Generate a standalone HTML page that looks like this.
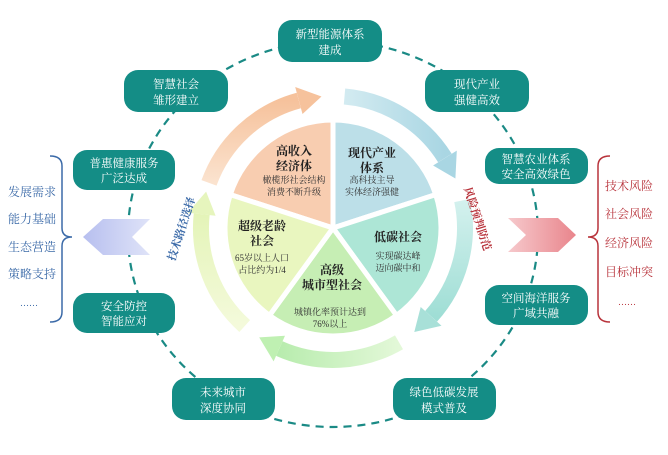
<!DOCTYPE html>
<html><head><meta charset="utf-8"><style>
body{margin:0;width:668px;height:450px;background:#fff;overflow:hidden;font-family:"Liberation Serif","Noto Serif CJK SC","Noto Sans CJK SC",serif;}
</style></head><body>
<svg width="668" height="450" viewBox="0 0 668 450" xmlns="http://www.w3.org/2000/svg">
<defs>
<linearGradient id="gp" x1="0" y1="1" x2="0" y2="0"><stop offset="0" stop-color="#fbe3cf"/><stop offset="1" stop-color="#f6c29c"/></linearGradient>
<linearGradient id="gb" x1="0" y1="0" x2="1" y2="0"><stop offset="0" stop-color="#d3ebf1"/><stop offset="1" stop-color="#a9d6e3"/></linearGradient>
<linearGradient id="gt" x1="0" y1="0" x2="0" y2="1"><stop offset="0" stop-color="#d4f1ee"/><stop offset="1" stop-color="#9fded5"/></linearGradient>
<linearGradient id="gg" x1="1" y1="0" x2="0" y2="0"><stop offset="0" stop-color="#e3f8d8"/><stop offset="1" stop-color="#b8ecae"/></linearGradient>
<linearGradient id="gy" x1="0" y1="1" x2="0" y2="0"><stop offset="0" stop-color="#f4fadb"/><stop offset="1" stop-color="#e4f4b8"/></linearGradient>
<linearGradient id="gl" x1="0" y1="0" x2="1" y2="0"><stop offset="0" stop-color="#b7bfef"/><stop offset="1" stop-color="#dfe3f8"/></linearGradient>
<linearGradient id="gr" x1="0" y1="0" x2="1" y2="0"><stop offset="0" stop-color="#f6c9cc"/><stop offset="1" stop-color="#e9858c"/></linearGradient>
</defs>
<ellipse cx="333" cy="234" rx="205" ry="193" fill="none" stroke="#1a8a85" stroke-width="2.2" stroke-dasharray="8 6"/>

<g fill="none" stroke-width="16">
<path d="M209,182.9 A132 132 0 0 1 298.8,100.5" stroke="url(#gp)"/>
<path d="M344.5,96.5 A132 132 0 0 1 444.9,158" stroke="url(#gb)"/>
<path d="M462.1,200.5 A132 132 0 0 1 431.1,316.3" stroke="url(#gt)"/>
<path d="M399,342.3 A132 132 0 0 1 279.3,348.6" stroke="url(#gg)"/>
<path d="M244.7,326.1 A132 132 0 0 1 201.7,214.2" stroke="url(#gy)"/>
</g>
<polygon points="302.5,114 295.2,87 321.5,96.5" fill="#f6c29c"/>
<polygon points="433.1,165.5 456.8,150.6 455.4,178.5" fill="#a9d6e3"/>
<polygon points="420.7,307 441.5,325.7 414.3,332" fill="#a8e0d8"/>
<polygon points="285,335.8 273.6,361.4 259.2,337.4" fill="#bff0b2"/>
<polygon points="215.6,215.7 187.8,212.7 206.1,191.6" fill="#e6f5bd"/>

<g stroke="#fff" stroke-width="5">
<path d="M333,228 L230.3,194.6 A108 108 0 0 1 333,120 Z" fill="#f8cdb0"/>
<path d="M333,228 L333,120 A108 108 0 0 1 435.7,194.6 Z" fill="#bcdfe8"/>
<path d="M333,228 L435.7,194.6 A108 108 0 0 1 396.5,315.4 Z" fill="#ade6d6"/>
<path d="M333,228 L396.5,315.4 A108 108 0 0 1 269.5,315.4 Z" fill="#c6eeb4"/>
<path d="M333,228 L269.5,315.4 A108 108 0 0 1 230.3,194.6 Z" fill="#e9f6bf"/>
</g>
<g text-anchor="middle" fill="#222">
<g font-size="12" font-weight="bold">
<text x="294" y="155">高收入</text><text x="294" y="170">经济体</text>
<text x="372" y="157">现代产业</text><text x="372" y="172">体系</text>
<text x="398" y="241">低碳社会</text>
<text x="332" y="274">高级</text><text x="332" y="289">城市型社会</text>
<text x="262" y="230">超级老龄</text><text x="262" y="245">社会</text>
</g>
<g font-size="9" fill="#333">
<text x="294" y="183">橄榄形社会结构</text><text x="294" y="195">消费不断升级</text>
<text x="372" y="183">高科技主导</text><text x="372" y="195">实体经济强健</text>
<text x="398" y="259">实现碳达峰</text><text x="398" y="271">迈向碳中和</text>
<text x="330" y="315">城镇化率预计达到</text><text x="330" y="327">76%以上</text>
<text x="262" y="261">65岁以上人口</text><text x="262" y="273">占比约为1/4</text>
</g>
</g>

<g fill="#148d86">
<rect x="278" y="20" width="104" height="42" rx="14"/>
<rect x="124" y="70" width="104" height="42" rx="14"/>
<rect x="425" y="70" width="104" height="42" rx="14"/>
<rect x="73" y="150" width="102" height="40" rx="14"/>
<rect x="485" y="148" width="103" height="36" rx="14"/>
<rect x="73" y="293" width="102" height="40" rx="14"/>
<rect x="485" y="285" width="103" height="40" rx="14"/>
<rect x="172" y="378" width="103" height="42" rx="14"/>
<rect x="393" y="378" width="103" height="42" rx="14"/>
</g>
<g text-anchor="middle" fill="#fff" font-size="11.5">
<text x="330" y="38">新型能源体系</text><text x="330" y="54">建成</text>
<text x="176" y="88">智慧社会</text><text x="176" y="104">雏形建立</text>
<text x="477" y="88">现代产业</text><text x="477" y="104">强健高效</text>
<text x="124" y="167">普惠健康服务</text><text x="124" y="182">广泛达成</text>
<text x="536" y="163">智慧农业体系</text><text x="536" y="178">安全高效绿色</text>
<text x="124" y="310">安全防控</text><text x="124" y="325">智能应对</text>
<text x="536" y="302">空间海洋服务</text><text x="536" y="317">广域共融</text>
<text x="223" y="396">未来城市</text><text x="223" y="412">深度协同</text>
<text x="444" y="396">绿色低碳发展</text><text x="444" y="412">模式普及</text>
</g>

<polygon points="83,237 103,219 150,219 132,237 150,255 103,255" fill="url(#gl)"/>
<polygon points="508,218 558,218 576,235 558,252 508,252 526,235" fill="url(#gr)"/>

<path d="M50,156 Q62,156 62,166 L62,228 Q62,237 72,237 Q62,237 62,246 L62,312 Q62,322 50,322" fill="none" stroke="#3b6aa8" stroke-width="1.5"/>
<path d="M610,156 Q598,156 598,166 L598,228 Q598,237 588,237 Q598,237 598,246 L598,312 Q598,322 610,322" fill="none" stroke="#b8333b" stroke-width="1.5"/>

<g font-size="12" fill="#3b6aa8">
<text x="8" y="196">发展需求</text><text x="8" y="223">能力基础</text><text x="8" y="251">生态营造</text><text x="8" y="278">策略支持</text><text x="20" y="306" font-size="9">……</text>
</g>
<g font-size="12" fill="#b8333b">
<text x="605" y="190">技术风险</text><text x="605" y="218">社会风险</text><text x="605" y="247">经济风险</text><text x="605" y="276">目标冲突</text><text x="618" y="305" font-size="9">……</text>
</g>

<text transform="translate(185,230) rotate(-72)" text-anchor="middle" font-size="11" fill="#3b6aa8" font-weight="bold">技术路径选择</text>
<text transform="translate(474,220) rotate(72)" text-anchor="middle" font-size="11" fill="#b8333b" font-weight="bold">风险预判防范</text>
</svg>
</body></html>
